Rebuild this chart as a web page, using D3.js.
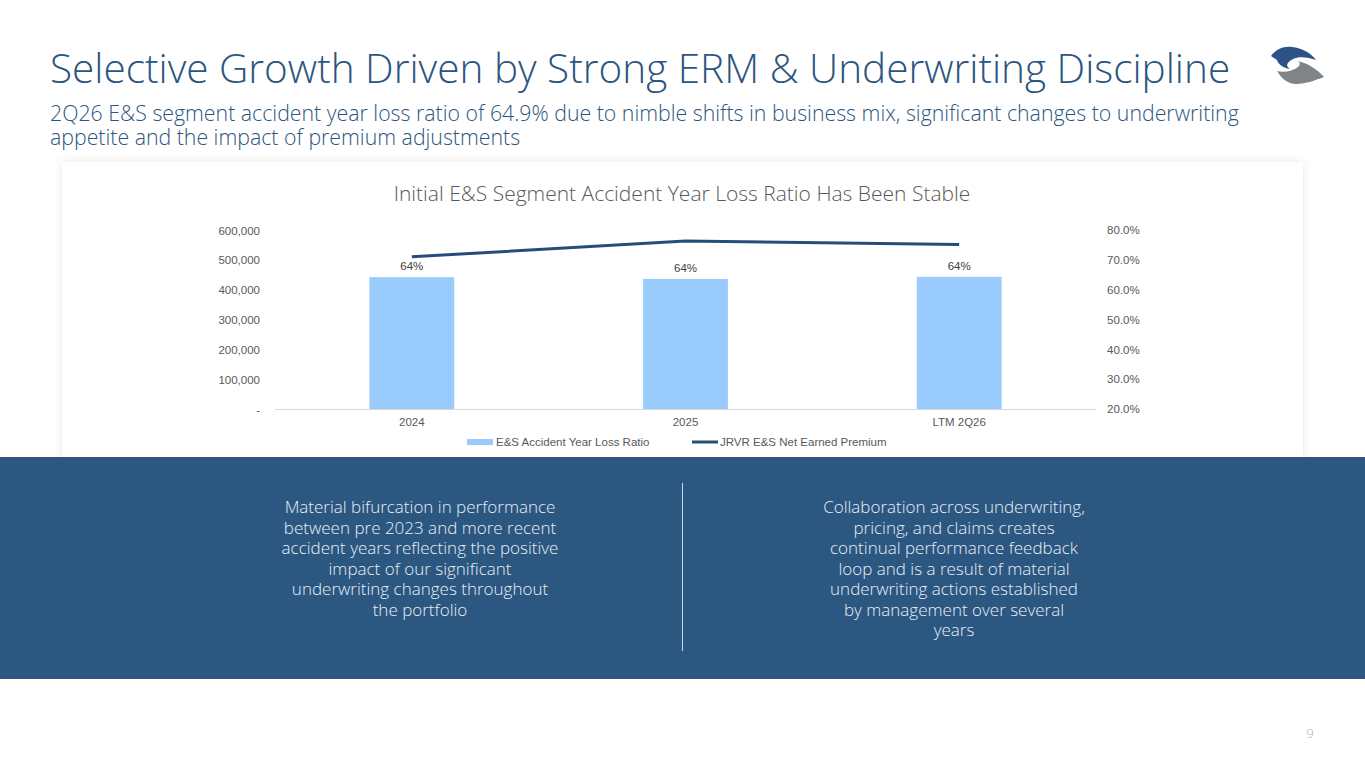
<!DOCTYPE html>
<html>
<head>
<meta charset="utf-8">
<script src="https://cdn.jsdelivr.net/npm/d3@7"></script>
<style>
  body { margin: 0; background: #fff; }
  svg { display: block; }
  .axis text { font-family: "Liberation Sans", Arial, sans-serif; font-size: 11.5px; fill: #595959; }
  .axis path, .axis line { display: none; }
</style>
</head>
<body>
<div id="wrapper"></div>
<script>
// data
const categories = ["2024", "2025", "LTM 2Q26"];
const lossRatio = [0.642, 0.636, 0.643];          // bars, right axis
const netEarnedPremium = [510000, 563000, 551000]; // line, left axis
const leftTicks = [0, 100000, 200000, 300000, 400000, 500000, 600000];
const rightTicks = [0.2, 0.3, 0.4, 0.5, 0.6, 0.7, 0.8];
const seriesNames = ["E&S Accident Year Loss Ratio", "JRVR E&S Net Earned Premium"];

const leftText = [
  "Material bifurcation in performance",
  "between pre 2023 and more recent",
  "accident years reflecting the positive",
  "impact of our significant",
  "underwriting changes throughout",
  "the portfolio"
];
const rightText = [
  "Collaboration across underwriting,",
  "pricing, and claims creates",
  "continual performance feedback",
  "loop and is a result of material",
  "underwriting actions established",
  "by management over several",
  "years"
];

const width = 1365, height = 768;
const blue = "#2c5580";
const titleFont = "'Open Sans', Lato, sans-serif";

const svg = d3.select("#wrapper").append("svg")
  .attr("width", width).attr("height", height);

const defs = svg.append("defs");
const shadow = defs.append("filter").attr("id", "shadow")
  .attr("x", "-5%").attr("y", "-10%").attr("width", "110%").attr("height", "120%");
shadow.append("feDropShadow").attr("dx", 0).attr("dy", 0)
  .attr("stdDeviation", 4).attr("flood-color", "#000").attr("flood-opacity", 0.1);

// slide title
svg.append("text")
  .attr("x", 50).attr("y", 83)
  .attr("font-family", titleFont).attr("font-size", 40.5).attr("font-weight", 300)
  .attr("fill", blue)
  .text("Selective Growth Driven by Strong ERM & Underwriting Discipline");

const subLines = [
  "2Q26 E&S segment accident year loss ratio of 64.9% due to nimble shifts in business mix, significant changes to underwriting",
  "appetite and the impact of premium adjustments"
];
svg.append("g").selectAll("text").data(subLines).join("text")
  .attr("x", 50).attr("y", (d, i) => 121 + i * 23.5)
  .attr("font-family", titleFont).attr("font-size", 21.3).attr("font-weight", 300)
  .attr("fill", blue)
  .text(d => d);

// logo
const logo = svg.append("g");
logo.append("path")
  .attr("d", "M1271,56 C1276,49 1284,46 1292,47 C1302,48 1311,53 1316,60 C1308,57 1299,56 1293,59 C1287,62 1285,66 1290,69 C1283,68 1278,64 1277,60 Z")
  .attr("fill", "#2d5288");
logo.append("path")
  .attr("d", "M1277,71 C1284,73 1293,71 1298,67 C1301,64 1300,62 1297,61 C1308,63 1318,70 1324,77 C1316,80 1306,84 1296,84 C1288,84 1281,78 1277,71 Z")
  .attr("fill", "#7f8488");

// chart card
svg.append("rect")
  .attr("x", 62).attr("y", 162).attr("width", 1241).attr("height", 300)
  .attr("fill", "#fff").attr("filter", "url(#shadow)");

svg.append("text")
  .attr("x", 682).attr("y", 201)
  .attr("text-anchor", "middle")
  .attr("font-family", titleFont).attr("font-size", 21).attr("font-weight", 300)
  .attr("fill", "#595959")
  .text("Initial E&S Segment Accident Year Loss Ratio Has Been Stable");

const plot = { left: 275, right: 1096, top: 230, bottom: 409 };

const x = d3.scaleBand().domain(categories).range([plot.left, plot.right]).padding(0);
const yLeft = d3.scaleLinear().domain([0, 600000]).range([plot.bottom, plot.top]);
const yRight = d3.scaleLinear().domain([0.2, 0.8]).range([plot.bottom, plot.top]);
const barW = x.bandwidth() * 0.31;

svg.append("g").attr("class", "axis")
  .attr("transform", `translate(${plot.left - 15},0)`)
  .call(d3.axisLeft(yLeft).tickValues(leftTicks).tickSize(0).tickPadding(0)
    .tickFormat(d => d === 0 ? "-" : d3.format(",")(d)))
  .selectAll("text").attr("dy", "0.35em");

svg.append("g").attr("class", "axis")
  .attr("transform", `translate(${plot.right + 11},0)`)
  .call(d3.axisRight(yRight).tickValues(rightTicks).tickSize(0).tickPadding(0)
    .tickFormat(d3.format(".1%")));

svg.append("g").attr("class", "axis")
  .attr("transform", `translate(0,${plot.bottom + 9})`)
  .call(d3.axisBottom(x).tickSize(0).tickPadding(0));

// bars
svg.selectAll(".bar").data(lossRatio).join("rect")
  .attr("class", "bar")
  .attr("x", (d, i) => x(categories[i]) + x.bandwidth() / 2 - barW / 2)
  .attr("y", d => yRight(d))
  .attr("width", barW)
  .attr("height", d => yRight(0.2) - yRight(d))
  .attr("fill", "#99cbfd");

svg.append("line")
  .attr("x1", plot.left).attr("x2", plot.right)
  .attr("y1", plot.bottom + 0.5).attr("y2", plot.bottom + 0.5)
  .attr("stroke", "#d9d9d9").attr("stroke-width", 1);

svg.selectAll(".bar-label").data(lossRatio).join("text")
  .attr("class", "bar-label")
  .attr("x", (d, i) => x(categories[i]) + x.bandwidth() / 2)
  .attr("y", d => yRight(d) - 7)
  .attr("text-anchor", "middle")
  .attr("font-family", "'Liberation Sans', Arial, sans-serif")
  .attr("font-size", 11.5).attr("fill", "#404040")
  .text(d => d3.format(".0%")(d));

// line
const line = d3.line()
  .x((d, i) => x(categories[i]) + x.bandwidth() / 2)
  .y(d => yLeft(d));
svg.append("path")
  .datum(netEarnedPremium)
  .attr("d", line)
  .attr("fill", "none")
  .attr("stroke", "#264d78").attr("stroke-width", 3);

// legend
const legend = svg.append("g").attr("transform", "translate(467,442)");
legend.append("rect").attr("x", 0).attr("y", -3).attr("width", 26).attr("height", 6).attr("fill", "#99cbfd");
legend.append("text").attr("x", 29).attr("y", 4)
  .attr("font-family", "'Liberation Sans', Arial, sans-serif").attr("font-size", 11.5).attr("fill", "#595959")
  .text(seriesNames[0]);
legend.append("line").attr("x1", 225).attr("x2", 251).attr("y1", 0).attr("y2", 0)
  .attr("stroke", "#264d78").attr("stroke-width", 3);
legend.append("text").attr("x", 253).attr("y", 4)
  .attr("font-family", "'Liberation Sans', Arial, sans-serif").attr("font-size", 11.5).attr("fill", "#595959")
  .text(seriesNames[1]);

// bottom panel
svg.append("rect")
  .attr("x", 0).attr("y", 457).attr("width", width).attr("height", 222)
  .attr("fill", "#2b5781");

svg.append("line")
  .attr("x1", 682.5).attr("x2", 682.5).attr("y1", 483).attr("y2", 651)
  .attr("stroke", "#c9d6e4").attr("stroke-width", 1);

function block(lines, cx) {
  svg.append("g").selectAll("text").data(lines).join("text")
    .attr("x", cx)
    .attr("y", (d, i) => 513 + i * 20.5)
    .attr("text-anchor", "middle")
    .attr("font-family", titleFont).attr("font-size", 17).attr("font-weight", 300)
    .attr("fill", "#e9eff6")
    .text(d => d);
}
block(leftText, 420);
block(rightText, 954);

svg.append("text")
  .attr("x", 1310).attr("y", 738)
  .attr("text-anchor", "middle")
  .attr("font-family", titleFont).attr("font-size", 13).attr("font-weight", 300)
  .attr("fill", "#b0b0b0")
  .text("9");
</script>
</body>
</html>
